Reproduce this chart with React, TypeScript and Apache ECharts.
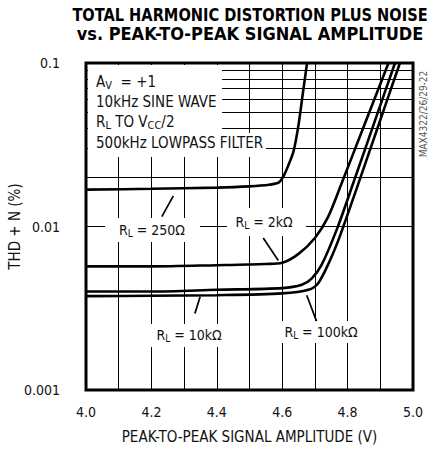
import React, { useEffect, useRef } from "react";
import * as echarts from "echarts";

const TITLE_LINES = ["TOTAL HARMONIC DISTORTION PLUS NOISE", "vs. PEAK-TO-PEAK SIGNAL AMPLITUDE"];
const X_NAME = "PEAK-TO-PEAK SIGNAL AMPLITUDE (V)";
const Y_NAME = "THD + N (%)";
const X_MIN = 4.0;
const X_MAX = 5.0;
const Y_MIN = 0.001;
const Y_MAX = 0.1;
const Y_TICKS = [0.001, 0.01, 0.1];
const Y_TICK_LABELS = ["0.001", "0.01", "0.1"];
const MINOR_Y = [0.002, 0.003, 0.004, 0.005, 0.006, 0.007, 0.008, 0.009, 0.02, 0.03, 0.04, 0.05, 0.06, 0.07, 0.08, 0.09];

const RL_250 = [
  [4.0, 0.0168], [4.2, 0.017], [4.4, 0.0173], [4.5, 0.0176], [4.56, 0.018], [4.59, 0.0186],
  [4.605, 0.0205], [4.62, 0.024], [4.635, 0.029], [4.65, 0.042], [4.663, 0.065], [4.676, 0.1],
];
const RL_2K = [
  [4.0, 0.0057], [4.2, 0.0057], [4.4, 0.0058], [4.55, 0.0059], [4.6, 0.006], [4.65, 0.0068],
  [4.7, 0.0085], [4.74, 0.0114], [4.78, 0.018], [4.85, 0.0412], [4.925, 0.1],
];
const RL_10K = [
  [4.0, 0.004], [4.2, 0.004], [4.4, 0.0041], [4.6, 0.0042], [4.66, 0.0044], [4.69, 0.0048],
  [4.72, 0.0058], [4.767, 0.0096], [4.82, 0.0191], [4.88, 0.0423], [4.945, 0.1],
];
const RL_100K = [
  [4.0, 0.00375], [4.2, 0.00377], [4.4, 0.0038], [4.6, 0.0039], [4.68, 0.0041], [4.71, 0.0045],
  [4.746, 0.0062], [4.777, 0.0088], [4.83, 0.0176], [4.89, 0.0392], [4.96, 0.1],
];

// annotation arrows: [tail, tip] in data coordinates
const ARROWS = [
  [[4.232, 0.0115], [4.267, 0.0154]],
  [[4.542, 0.0085], [4.588, 0.0062]],
  [[4.333, 0.00294], [4.349, 0.00372]],
  [[4.7055, 0.00262], [4.675, 0.0038]],
];

const FONT = "'DejaVu Sans Condensed', 'Liberation Sans Narrow', sans-serif";

const richOf = (size: number) => ({
  n: { fontSize: size, fontFamily: FONT, fill: "#111", lineHeight: 18 },
  s: { fontSize: size - 4, fontFamily: FONT, fill: "#111", lineHeight: 18, padding: [7, 0, 0, 0] },
});

function rlLabel(value: string, x: number, y: number) {
  return {
    type: "text",
    x,
    y,
    z: 60,
    style: {
      text: `{n|R}{s|L}{n| = ${value}}`,
      rich: richOf(14),
      align: "center",
      verticalAlign: "middle",
    },
  };
}

function blockLine(text: string, y: number) {
  return {
    type: "text",
    x: 96,
    y,
    z: 60,
    style: { text, rich: richOf(15), align: "left", verticalAlign: "middle" },
  };
}

function whiteBox(x: number, y: number, w: number, h: number) {
  return { type: "rect", x, y, z: 50, shape: { width: w, height: h }, style: { fill: "#fff" } };
}

export default function App() {
  const ref = useRef<HTMLDivElement>(null);
  useEffect(() => {
    document.body.style.margin = "0";
    const chart = echarts.init(ref.current!, null, { renderer: "svg" });
    const curve = (data: number[][]) => ({
      type: "line",
      data,
      showSymbol: false,
      smooth: 0.3,
      silent: true,
      z: 10,
      lineStyle: { color: "#000", width: 2.6 },
    });
    const option: any = {
      animation: false,
      grid: {
        left: 86,
        right: 17,
        top: 63,
        bottom: 60,
        containLabel: false,
        outerBoundsMode: "none",
        show: true,
        borderColor: "#000",
        borderWidth: 3,
        backgroundColor: "transparent",
      },
      xAxis: {
        type: "value",
        min: X_MIN,
        max: X_MAX,
        interval: 0.2,
        name: X_NAME,
        nameLocation: "middle",
        nameGap: 39,
        nameMoveOverlap: false,
        nameTextStyle: { fontFamily: FONT, fontSize: 15, color: "#111" },
        axisLine: { show: false },
        axisTick: { show: false },
        minorTick: { show: false, splitNumber: 2 },
        axisLabel: {
          margin: 15,
          fontFamily: FONT,
          fontSize: 14,
          color: "#111",
          formatter: (v: number) => v.toFixed(1),
        },
        splitLine: { show: true, lineStyle: { color: "#000", width: 1 } },
        minorSplitLine: { show: true, lineStyle: { color: "#000", width: 1 } },
      },
      yAxis: {
        type: "log",
        logBase: 10,
        min: Y_MIN,
        max: Y_MAX,
        name: Y_NAME,
        nameLocation: "middle",
        nameRotate: 90,
        nameGap: 64,
        nameMoveOverlap: false,
        nameTextStyle: { fontFamily: FONT, fontSize: 15, color: "#111" },
        axisLine: { show: false },
        axisTick: { show: false },
        axisLabel: {
          margin: 26,
          fontFamily: FONT,
          fontSize: 14,
          color: "#111",
          formatter: (v: number) => {
            const i = Y_TICKS.findIndex((t) => Math.abs(Math.log10(t) - Math.log10(v)) < 1e-6);
            return i >= 0 ? Y_TICK_LABELS[i] : "";
          },
        },
        splitLine: { show: true, lineStyle: { color: "#000", width: 1 } },
      },
      series: [
        {
          type: "line",
          data: [],
          silent: true,
          z: 1,
          markLine: {
            silent: true,
            symbol: "none",
            label: { show: false },
            lineStyle: { color: "#000", width: 1, type: "solid" },
            data: MINOR_Y.map((v) => ({ yAxis: v })),
          },
        },
        curve(RL_250),
        curve(RL_2K),
        curve(RL_10K),
        curve(RL_100K),
        {
          type: "line",
          data: [],
          silent: true,
          z: 70,
          markLine: {
            silent: true,
            symbol: ["none", "arrow"],
            symbolSize: [0, 13],
            label: { show: false },
            lineStyle: { color: "#000", width: 1.7, type: "solid" },
            data: ARROWS.map((a) => [{ coord: a[0] }, { coord: a[1] }]),
          },
        },
      ],
      graphic: [
        {
          type: "text",
          x: 250,
          y: 15,
          scaleX: 0.955,
          style: {
            text: TITLE_LINES[0],
            fontFamily: FONT,
            fontWeight: "bold",
            fontSize: 17,
            fill: "#000",
            align: "center",
            verticalAlign: "middle",
          },
        },
        {
          type: "text",
          x: 250,
          y: 34,
          scaleX: 1.06,
          style: {
            text: TITLE_LINES[1],
            fontFamily: FONT,
            fontWeight: "bold",
            fontSize: 17,
            fill: "#000",
            align: "center",
            verticalAlign: "middle",
          },
        },
        whiteBox(88, 65, 134, 72),
        whiteBox(88, 133, 178, 24),
        whiteBox(105, 218, 95, 24),
        whiteBox(227, 208, 79, 28),
        whiteBox(147, 324, 88, 23),
        whiteBox(278, 321, 85, 22),
        blockLine("{n|A}{s|V}{n|  = +1}", 82),
        blockLine("{n|10kHz SINE WAVE}", 102),
        blockLine("{n|R}{s|L}{n| TO V}{s|CC}{n|/2}", 122),
        blockLine("{n|500kHz LOWPASS FILTER}", 143),
        rlLabel("250Ω", 152, 230),
        rlLabel("2kΩ", 264, 222),
        rlLabel("10kΩ", 189, 335),
        rlLabel("100kΩ", 321, 332),
        {
          type: "text",
          x: 423,
          y: 114,
          rotation: Math.PI / 2,
          style: {
            text: "MAX4322/26/29-22",
            fontFamily: FONT,
            fontSize: 10,
            fill: "#555",
            align: "center",
            verticalAlign: "middle",
          },
        },
      ],
    };
    chart.setOption(option);
    return () => chart.dispose();
  }, []);
  return <div ref={ref} style={{ width: 430, height: 450 }} />;
}
